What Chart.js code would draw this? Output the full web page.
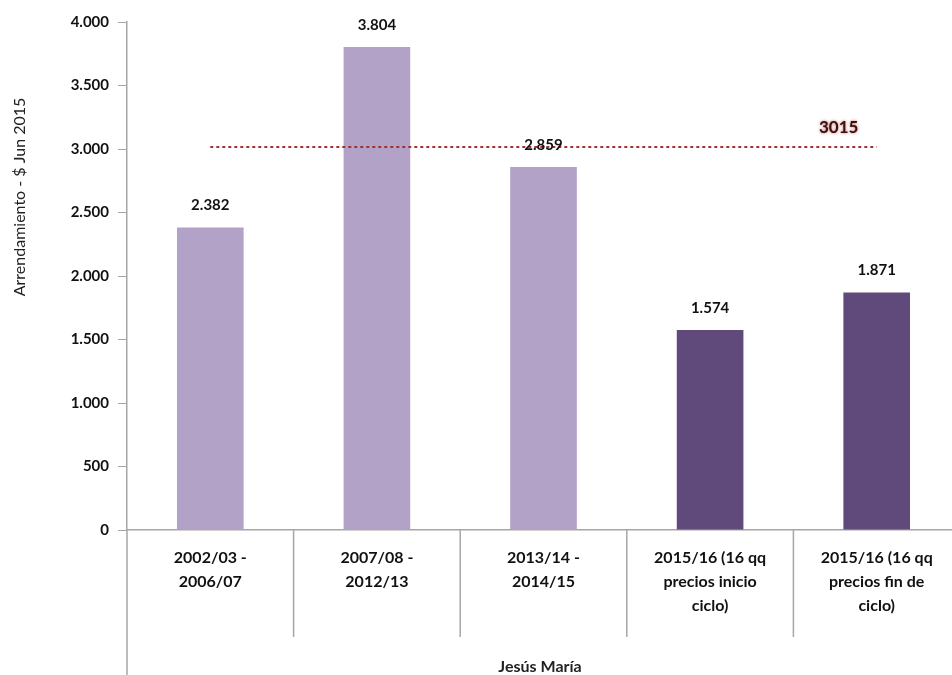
<!DOCTYPE html>
<html><head><meta charset="utf-8">
<script src="https://cdn.jsdelivr.net/npm/chart.js@4"></script>
<style>html,body{margin:0;padding:0;background:#fff;overflow:hidden}#wrap{width:952px;height:675px;overflow:hidden}</style>
</head><body><div id="wrap"><canvas id="c" width="960" height="675"></canvas></div>
<script>
const categories = [
  ["2002/03 -","2006/07"],
  ["2007/08 -","2012/13"],
  ["2013/14 -","2014/15"],
  ["2015/16 (16 qq","precios inicio","ciclo)"],
  ["2015/16 (16 qq","precios fin de","ciclo)"]
];
const values = [2382, 3804, 2859, 1574, 1871];
const barColors = ["#b3a2c7","#b3a2c7","#b3a2c7","#604a7b","#604a7b"];
const referenceValue = 3015;
const referenceLine = [3015, 3015, 3015, 3015, 3015];
const yTicks = [0,500,1000,1500,2000,2500,3000,3500,4000];
const yTitle = "Arrendamiento - $ Jun 2015";
const groupLabel = "Jesús María";

const FONT = "Lato, 'Open Sans', sans-serif";
const fmt = v => v.toLocaleString('de-DE');

const extras = {
  id: 'extras',
  afterDraw(chart) {
    const ctx = chart.ctx, x = chart.scales.x, y = chart.scales.y, a = chart.chartArea;
    ctx.save();
    ctx.strokeStyle = '#a6a6a6'; ctx.lineWidth = 1.5;
    ctx.beginPath(); ctx.moveTo(a.left, a.bottom); ctx.lineTo(a.left, chart.height); ctx.stroke();
    for (let i = 1; i < categories.length; i++) {
      const bx = (x.getPixelForValue(i - 1) + x.getPixelForValue(i)) / 2;
      ctx.beginPath(); ctx.moveTo(bx, a.bottom); ctx.lineTo(bx, a.bottom + 107); ctx.stroke();
    }
    ctx.fillStyle = '#111'; ctx.font = 'bold 15px ' + FONT;
    ctx.textAlign = 'center'; ctx.textBaseline = 'middle';
    const meta = chart.getDatasetMeta(0);
    meta.data.forEach((b, i) => ctx.fillText(fmt(values[i]), b.x, b.y - 22));
    const last = categories.length - 1;
    ctx.save();
    ctx.shadowColor = 'rgba(192,80,77,0.9)'; ctx.shadowBlur = 3;
    ctx.font = 'bold 17px ' + FONT; ctx.fillStyle = '#3a1212';
    ctx.fillText(String(referenceValue), x.getPixelForValue(last) - 38, y.getPixelForValue(referenceValue) - 20);
    ctx.restore();
    ctx.save();
    ctx.translate(20, 197); ctx.rotate(-Math.PI / 2);
    ctx.font = '16px ' + FONT; ctx.fillStyle = '#222';
    ctx.fillText(yTitle, 0, 0);
    ctx.restore();
    ctx.font = 'bold 16px ' + FONT; ctx.fillStyle = '#222';
    ctx.fillText(groupLabel, 540, 667);
    ctx.restore();
  }
};

new Chart(document.getElementById('c'), {
  data: {
    labels: categories,
    datasets: [
      { type: 'bar', data: values, backgroundColor: barColors, categoryPercentage: 1, barPercentage: 0.4, order: 2 },
      { type: 'line', data: referenceLine, borderColor: '#a0342f', borderWidth: 2, borderDash: [3, 3], pointRadius: 0, order: 1 }
    ]
  },
  options: {
    responsive: false, animation: false, devicePixelRatio: 1,
    layout: { padding: { top: 22, right: 0, left: 0, bottom: 0 } },
    plugins: { legend: { display: false }, tooltip: { enabled: false } },
    scales: {
      x: {
        afterFit: s => { s.height = 145; },
        grid: { display: false },
        border: { color: '#a6a6a6', width: 1.5 },
        ticks: { color: '#111', font: { family: FONT, size: 16, weight: 'bold', lineHeight: 1.5 }, padding: 8, maxRotation: 0, autoSkip: false }
      },
      y: {
        min: 0, max: 4000,
        afterFit: s => { s.width = 127; },
        afterBuildTicks: s => { s.ticks = yTicks.map(v => ({ value: v })); },
        grid: { drawOnChartArea: false, drawTicks: true, tickLength: 9, color: '#a6a6a6' },
        border: { color: '#a6a6a6', width: 1.5 },
        ticks: { color: '#111', font: { family: FONT, size: 15, weight: 'bold' }, padding: 9, callback: v => fmt(v) }
      }
    }
  },
  plugins: [extras]
});
</script></body></html>
